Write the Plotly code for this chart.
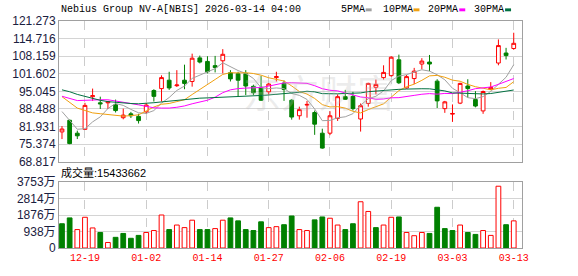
import plotly.graph_objects as go

dates = ["2025-12-16","2025-12-17","2025-12-18","2025-12-19","2025-12-22","2025-12-23","2025-12-24","2025-12-26",
         "2025-12-29","2025-12-30","2025-12-31","2026-01-02","2026-01-05","2026-01-06","2026-01-07","2026-01-08",
         "2026-01-09","2026-01-12","2026-01-13","2026-01-14","2026-01-15","2026-01-16","2026-01-20","2026-01-21",
         "2026-01-22","2026-01-23","2026-01-26","2026-01-27","2026-01-28","2026-01-29","2026-01-30","2026-02-02",
         "2026-02-03","2026-02-04","2026-02-05","2026-02-06","2026-02-09","2026-02-10","2026-02-11","2026-02-12",
         "2026-02-13","2026-02-17","2026-02-18","2026-02-19","2026-02-20","2026-02-23","2026-02-24","2026-02-25",
         "2026-02-26","2026-02-27","2026-03-02","2026-03-03","2026-03-04","2026-03-05","2026-03-06","2026-03-09",
         "2026-03-10","2026-03-11","2026-03-12","2026-03-13"]

opens = [79.91,84.25,79.43,80.87,93.05,90.76,90.76,90.04,85.21,86.66,85.70,87.38,95.34,96.07,99.20,97.15,
         99.20,98.72,107.52,106.20,104.63,106.44,101.98,101.62,101.62,96.91,96.55,94.86,100.17,98.12,91.73,85.94,
         89.92,87.14,79.43,79.43,84.97,93.05,93.17,84.73,90.52,96.55,100.17,100.89,106.80,96.31,99.81,105.23,
         105.96,98.84,88.59,86.54,90.64,97.03,91.97,87.74,95.80,105.60,109.33,111.02]
highs = [82.08,84.49,80.39,90.76,96.07,93.05,91.48,91.97,88.59,87.38,86.66,90.76,95.83,101.01,102.34,102.94,
         104.99,109.09,108.37,108.13,108.25,110.78,102.94,102.34,102.94,97.52,100.77,98.12,102.34,99.08,92.09,89.32,
         91.48,87.87,81.11,87.63,93.90,95.58,94.86,90.52,98.24,99.44,104.75,108.13,108.73,101.13,103.79,107.40,
         108.61,99.56,91.48,90.16,98.24,99.56,95.10,95.34,98.48,114.40,111.26,116.90]
lows = [77.25,75.32,77.25,80.63,91.48,88.47,88.47,87.14,84.61,85.09,83.04,86.66,91.24,91.24,95.58,96.67,
        95.83,96.79,105.47,101.74,102.10,101.74,98.72,93.29,93.65,93.65,91.48,93.90,98.72,91.48,84.49,84.49,
        85.21,78.82,73.64,78.70,84.00,91.90,87.87,80.03,89.32,93.90,99.44,100.53,97.76,96.07,97.76,103.30,
        102.58,88.83,87.02,83.65,90.28,92.69,89.07,86.66,95.58,104.75,106.92,110.54]
closes = [80.99,75.56,78.46,89.80,93.42,90.40,91.12,87.87,86.18,85.94,84.13,89.92,93.17,100.17,96.31,97.40,
          98.00,107.40,105.96,102.34,103.91,108.85,99.69,99.20,97.03,94.50,91.73,97.76,100.53,95.71,85.45,88.23,
          90.16,82.80,73.88,85.94,93.05,92.09,88.59,89.68,98.00,97.64,102.10,107.77,98.24,100.53,102.58,106.32,
          105.23,91.48,91.12,86.78,98.00,96.07,89.56,94.98,96.50,112.11,108.37,112.95]

ma5 = [87.5,84.3,80.9,81.1,83.65,85.53,88.64,90.52,89.80,88.30,87.05,86.81,87.87,90.67,92.74,95.39,97.01,99.86,
       101.01,102.22,103.52,105.69,104.15,102.80,101.74,99.85,96.43,96.04,96.31,96.05,94.24,93.54,92.02,88.47,
       84.10,84.20,85.17,85.55,86.71,89.87,92.28,93.20,95.20,99.04,100.75,101.26,102.24,103.09,102.58,101.23,
       99.35,96.19,94.52,92.69,92.31,93.08,95.02,97.84,100.30,104.98]
ma10 = [93.05,90.9,88.8,87.9,87.0,86.7,86.4,86.1,85.8,85.97,86.29,87.72,89.20,90.23,90.52,91.22,91.91,93.86,
        95.84,97.48,99.46,101.35,102.00,101.91,101.98,101.69,101.06,100.10,99.55,98.89,97.05,94.98,94.03,92.39,
        90.08,89.22,89.35,88.78,87.59,86.99,88.24,89.18,90.38,92.87,95.31,96.77,97.72,99.15,100.81,100.99,
        100.30,99.22,98.81,97.64,96.77,96.21,95.60,96.18,96.50,98.64]
ma20 = [93.2,92.4,91.6,91.7,91.9,91.9,91.9,91.5,91.0,90.5,90.0,89.4,88.9,88.8,88.8,89.1,89.6,90.4,91.1,91.73,
        92.87,94.54,95.60,96.07,96.25,96.45,96.49,96.98,97.70,98.19,98.25,98.17,98.02,97.15,96.03,95.45,95.21,
        94.44,93.57,92.94,92.64,92.08,92.20,92.63,92.69,92.99,93.54,93.96,94.20,93.99,94.27,94.20,94.59,95.25,
        96.04,96.49,96.66,97.66,98.65,99.82]
ma30 = [95.6,94.9,93.9,93.1,92.3,91.7,91.2,90.9,90.6,90.5,90.4,90.5,90.8,91.1,91.4,91.7,92.0,92.3,92.5,92.6,
        92.7,92.9,93.1,93.2,93.3,93.4,93.5,93.7,93.9,94.12,94.26,94.69,95.08,94.84,94.19,94.04,94.11,94.25,94.33,
        94.45,94.92,95.17,95.47,95.72,95.79,95.89,96.04,96.01,95.98,95.62,95.20,94.46,94.40,94.30,94.05,94.07,
        94.23,94.70,94.97,95.54]

volumes_wan = [1380,1711,1049,1748,1141,883,313,607,828,552,717,883,993,1877,1049,1306,1159,1582,1049,1049,
               1104,1582,1711,1545,1049,993,1490,1159,1214,1325,1821,1049,993,1601,1766,1693,1306,1049,1380,2631,
               2079,1159,1306,1748,1766,883,699,883,828,2318,1104,993,1306,883,773,993,717,3514,1325,1543.3662]
vol_up = [0,0,1,1,1,0,1,0,0,0,0,1,1,1,0,1,1,1,0,0,1,1,0,0,0,0,0,1,1,0,
          0,1,1,0,0,1,1,0,0,1,1,0,1,1,0,1,1,1,0,0,0,0,1,0,0,1,1,1,0,1]

price_ticks = [68.817, 75.374, 81.931, 88.488, 95.045, 101.602, 108.159, 114.716, 121.273]
vol_ticks = [0, 9380000, 18760000, 28140000, 37530000]
vol_tick_labels = ["0", "938万", "1876万", "2814万", "3753万"]
x_tick_dates = ["2025-12-19","2026-01-02","2026-01-14","2026-01-27","2026-02-06","2026-02-19","2026-03-03","2026-03-13"]
x_tick_labels = ["12-19","01-02","01-14","01-27","02-06","02-19","03-03","03-13"]

title_text = "Nebius Group NV-A[NBIS] 2026-03-14 04:00"
vol_title = "成交量:15433662"
ma_names = ["5PMA", "10PMA", "20PMA", "30PMA"]
ma_colors = ["#a0a0a0", "#f0a010", "#ff00ff", "#007040"]

RED = "#ff0000"
GREEN = "#008000"
MONO = "Liberation Mono, DejaVu Sans Mono, monospace"
SANS = "Liberation Sans, Arial, Noto Sans CJK SC, sans-serif"

fig = go.Figure()

fig.add_trace(go.Candlestick(
    x=dates, open=opens, high=highs, low=lows, close=closes,
    increasing=dict(line=dict(color=RED, width=1), fillcolor="#ffffff"),
    decreasing=dict(line=dict(color=GREEN, width=1), fillcolor=GREEN),
    whiskerwidth=0, xaxis="x", yaxis="y", showlegend=False, hoverinfo="skip"))

for vals, col in zip([ma5, ma10, ma20, ma30], ma_colors):
    fig.add_trace(go.Scatter(x=dates, y=vals, mode="lines", line=dict(color=col, width=1),
                             xaxis="x", yaxis="y", showlegend=False, hoverinfo="skip"))

volumes = [v * 10000 for v in volumes_wan]
fig.add_trace(go.Bar(
    x=dates, y=volumes, width=0.62,
    marker=dict(color=["#ffffff" if u else GREEN for u in vol_up],
                line=dict(color=[RED if u else GREEN for u in vol_up], width=1)),
    xaxis="x2", yaxis="y2", showlegend=False, hoverinfo="skip"))

W, H = 578, 276
ml, mr, mt, mb = 57, 56, 21, 21
pw, ph = W - ml - mr, H - mt - mb

def py(ypx):
    return 1 - (ypx - mt) / ph

def px(xpx):
    return (xpx - ml) / pw

main_bottom = 166
vol_top = 187

axis_common = dict(showline=True, linecolor="#a0a0a0", linewidth=1, mirror=True, ticks="",
                   zeroline=False)

fig.update_layout(
    width=W, height=H, margin=dict(l=ml, r=mr, t=mt, b=mb),
    paper_bgcolor="#ffffff", plot_bgcolor="#ffffff",
    boxgap=0.3,
    bargap=0.3,
    xaxis=dict(type="category", categoryorder="array", categoryarray=dates,
               range=[-0.39, 60.08], anchor="y", domain=[0, 1],
               showticklabels=False, showgrid=True, gridcolor="#cccccc", griddash="dash", gridwidth=1,
               tickvals=x_tick_dates, rangeslider=dict(visible=False), **axis_common),
    xaxis2=dict(type="category", categoryorder="array", categoryarray=dates,
                range=[-0.39, 60.08], anchor="y2", domain=[0, 1], matches="x",
                showgrid=True, gridcolor="#cccccc", griddash="dash", gridwidth=1,
                tickvals=x_tick_dates, ticktext=x_tick_labels,
                tickfont=dict(family=MONO, size=10, color=RED), **axis_common),
    yaxis=dict(domain=[py(main_bottom), 1], range=[price_ticks[0], price_ticks[-1]],
               tickvals=price_ticks, ticktext=[f"{v:.3f}" for v in price_ticks],
               showgrid=True, gridcolor="#d4d4d4", gridwidth=1,
               tickfont=dict(family=SANS, size=12, color="#1a2040"), **axis_common),
    yaxis2=dict(domain=[0, py(vol_top)], range=[0, vol_ticks[-1]],
                tickvals=vol_ticks, ticktext=vol_tick_labels,
                showgrid=True, gridcolor="#d4d4d4", gridwidth=1,
                tickfont=dict(family=SANS, size=12, color="#1a2040"), **axis_common),
)

annotations = [
    dict(text=title_text, x=px(57), y=py(9), xref="paper", yref="paper", xanchor="left",
         yanchor="middle", showarrow=False, font=dict(family=MONO, size=10, color="#000000")),
    dict(text=vol_title, x=px(57), y=py(177), xref="paper", yref="paper", xanchor="left",
         yanchor="middle", showarrow=False, font=dict(family=SANS, size=11, color="#000000")),
    dict(text="东方财富", x=px(318), y=py(93), xref="paper", yref="paper", xanchor="center",
         yanchor="middle", showarrow=False,
         font=dict(family="Noto Sans CJK SC", size=38, color="rgba(190,190,190,0.28)")),
]
shapes = []
legend_x = [338, 380, 426, 472]
square_x = [365, 413, 459, 505]
for name, col, lx, sx in zip(ma_names, ma_colors, legend_x, square_x):
    annotations.append(dict(text=name, x=px(lx), y=py(9), xref="paper", yref="paper",
                            xanchor="left", yanchor="middle", showarrow=False,
                            font=dict(family=MONO, size=10, color="#000000")))
    shapes.append(dict(type="rect", xref="paper", yref="paper", x0=px(sx), x1=px(sx + 6),
                       y0=py(11), y1=py(8), fillcolor=col, line=dict(width=0)))

fig.update_layout(annotations=annotations, shapes=shapes)

fig.write_html("out.html")
